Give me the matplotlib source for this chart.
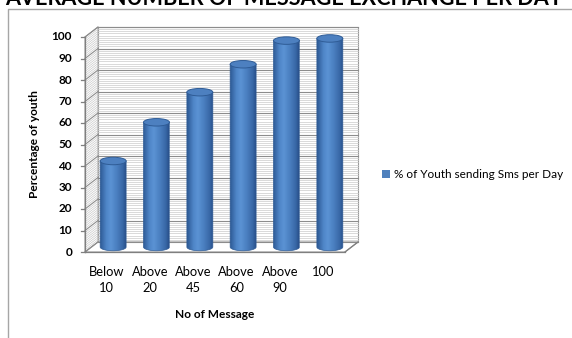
import numpy as np
import matplotlib
matplotlib.use('Agg')
import matplotlib.pyplot as plt
from matplotlib.patches import Polygon, Ellipse, PathPatch, Patch
from matplotlib.path import Path
from matplotlib.lines import Line2D
from matplotlib.colors import LinearSegmentedColormap

# ---------------- data ----------------
categories = ['Below\n10', 'Above\n20', 'Above\n45', 'Above\n60', 'Above\n90', '100']
values = [40, 58, 72, 85, 96, 97]
yticks = list(range(0, 101, 10))
series_name = '% of Youth sending Sms per Day'
title = 'AVERAGE NUMBER OF MESSAGE EXCHANGE PER DAY'
xlabel = 'No of Message'
ylabel = 'Percentage of youth'

# ---------------- layout ----------------
W, H = 572, 338
fig = plt.figure(figsize=(W / 100, H / 100), dpi=100)
ax = fig.add_axes([0, 0, 1, 1])

PX_CAT = 43.33   # pixels per category
PX_VAL = 2.15    # pixels per value unit
X0PX, Y0PX = 85, 252  # pixel position of front-left floor corner

n = len(categories)
XL, XR = -0.5, n - 0.5
YMAX = 100
DX = 13 / PX_CAT   # depth offset
DY = 10 / PX_VAL

FONT = 'Lato'
grid_minor = '#cacaca'
grid_major = '#8c8c8c'
wall_edge = '#9a9a9a'

# walls
back = Polygon([(XL + DX, DY), (XR + DX, DY), (XR + DX, YMAX + DY), (XL + DX, YMAX + DY)],
               closed=True, facecolor='white', edgecolor=wall_edge, lw=0.8, zorder=1)
side = Polygon([(XL, 0), (XL + DX, DY), (XL + DX, YMAX + DY), (XL, YMAX)],
               closed=True, facecolor='white', edgecolor=wall_edge, lw=0.8, zorder=1)
floor = Polygon([(XL, 0), (XR, 0), (XR + DX, DY), (XL + DX, DY)],
                closed=True, facecolor='white', edgecolor=wall_edge, lw=0.8, zorder=1)
for p in (back, side, floor):
    ax.add_patch(p)

# gridlines (minor every 1, major every 10)
for v in range(0, YMAX + 1):
    major = (v % 10 == 0)
    col = grid_major if major else grid_minor
    lw = 0.8 if major else 0.5
    ax.plot([XL + DX, XR + DX], [v + DY, v + DY], color=col, lw=lw, zorder=2)
    ax.plot([XL, XL + DX], [v, v + DY], color=col, lw=lw, zorder=2)

# front axes lines
ax.plot([XL, XL], [0, YMAX], color='#7f7f7f', lw=0.9, zorder=2)
ax.plot([XL, XR], [0, 0], color='#7f7f7f', lw=0.9, zorder=2)
ax.plot([XR, XR + DX], [0, DY], color='#7f7f7f', lw=0.9, zorder=2)

# y ticks and labels
tick_len = 4 / PX_CAT
for t in yticks:
    ax.plot([XL - tick_len, XL], [t, t], color='#7f7f7f', lw=0.9, zorder=2)
    ax.text(XL - 13 / PX_CAT, t, str(t), ha='right', va='center',
            fontsize=8.5, fontweight='bold', family=FONT, color='black')

# category labels
for i, c in enumerate(categories):
    ax.text(i, -(266 - Y0PX) / PX_VAL, c, ha='center', va='top', fontsize=9.3,
            family=FONT, color='black', linespacing=1.45)

ax.text((XL + XR) / 2, -(315 - Y0PX) / PX_VAL, xlabel, ha='center', va='center',
        fontsize=8.6, fontweight='bold', family=FONT)
ax.text(XL - (X0PX - 34) / PX_CAT, 50, ylabel, ha='center', va='center', rotation=90,
        fontsize=8.6, fontweight='bold', family=FONT)

# cylinders
cmap = LinearSegmentedColormap.from_list('cyl', [
    (0.0, '#2c5893'), (0.25, '#4f86c8'), (0.42, '#5b93d4'),
    (0.65, '#4a7fc0'), (0.88, '#3867a6'), (1.0, '#29508a')])
grad = np.linspace(0, 1, 256).reshape(1, -1)
BW = 0.6
EH = 7.5 / PX_VAL
for i, v in enumerate(values):
    cx = i + DX / 2
    base = DY / 2
    top = v + DY / 2
    t = np.linspace(np.pi, 2 * np.pi, 60)
    pts = list(zip(cx + BW / 2 * np.cos(t), base + EH / 2 * np.sin(t)))
    pts += [(cx + BW / 2, top), (cx - BW / 2, top), pts[0]]
    codes = [Path.MOVETO] + [Path.LINETO] * (len(pts) - 2) + [Path.CLOSEPOLY]
    clip = PathPatch(Path(pts, codes), transform=ax.transData, facecolor='none')
    im = ax.imshow(grad, cmap=cmap, extent=(cx - BW / 2, cx + BW / 2, base - EH, top),
                   aspect='auto', zorder=3, interpolation='bilinear')
    im.set_clip_path(clip)
    ax.add_patch(PathPatch(Path(pts, codes), facecolor='none', edgecolor='#2f5c96',
                           lw=0.5, zorder=4))
    ax.add_patch(Ellipse((cx, top), BW, EH, facecolor='#4d80c0', edgecolor='#2f5c96',
                         lw=0.7, zorder=5))

ax.set_xlim(XL - X0PX / PX_CAT, XL + (W - X0PX) / PX_CAT)
ax.set_ylim((Y0PX - H) / PX_VAL, Y0PX / PX_VAL)
ax.set_aspect('auto')
ax.axis('off')

# legend
leg = ax.legend(handles=[Patch(facecolor='#4f81bd', edgecolor='none', label=series_name)],
                loc='center left', bbox_to_anchor=(382 / W, 1 - 175 / H),
                frameon=False, handlelength=0.65, handleheight=0.65, handletextpad=0.35,
                borderaxespad=0, borderpad=0, prop={'family': FONT, 'size': 8.5})

# title (cut at top, as in the reference) and chart border
fig.text(5 / W, 1 - 5.0 / H, title, ha='left', va='baseline', fontsize=15.6,
         fontweight='bold', family=FONT)
fig.add_artist(Line2D([8 / W, 8 / W, 1], [0, 1 - 8.5 / H, 1 - 8.5 / H],
                      transform=fig.transFigure, color='#a6a6a6', lw=1.0))

fig.savefig('out.png', dpi=100)
